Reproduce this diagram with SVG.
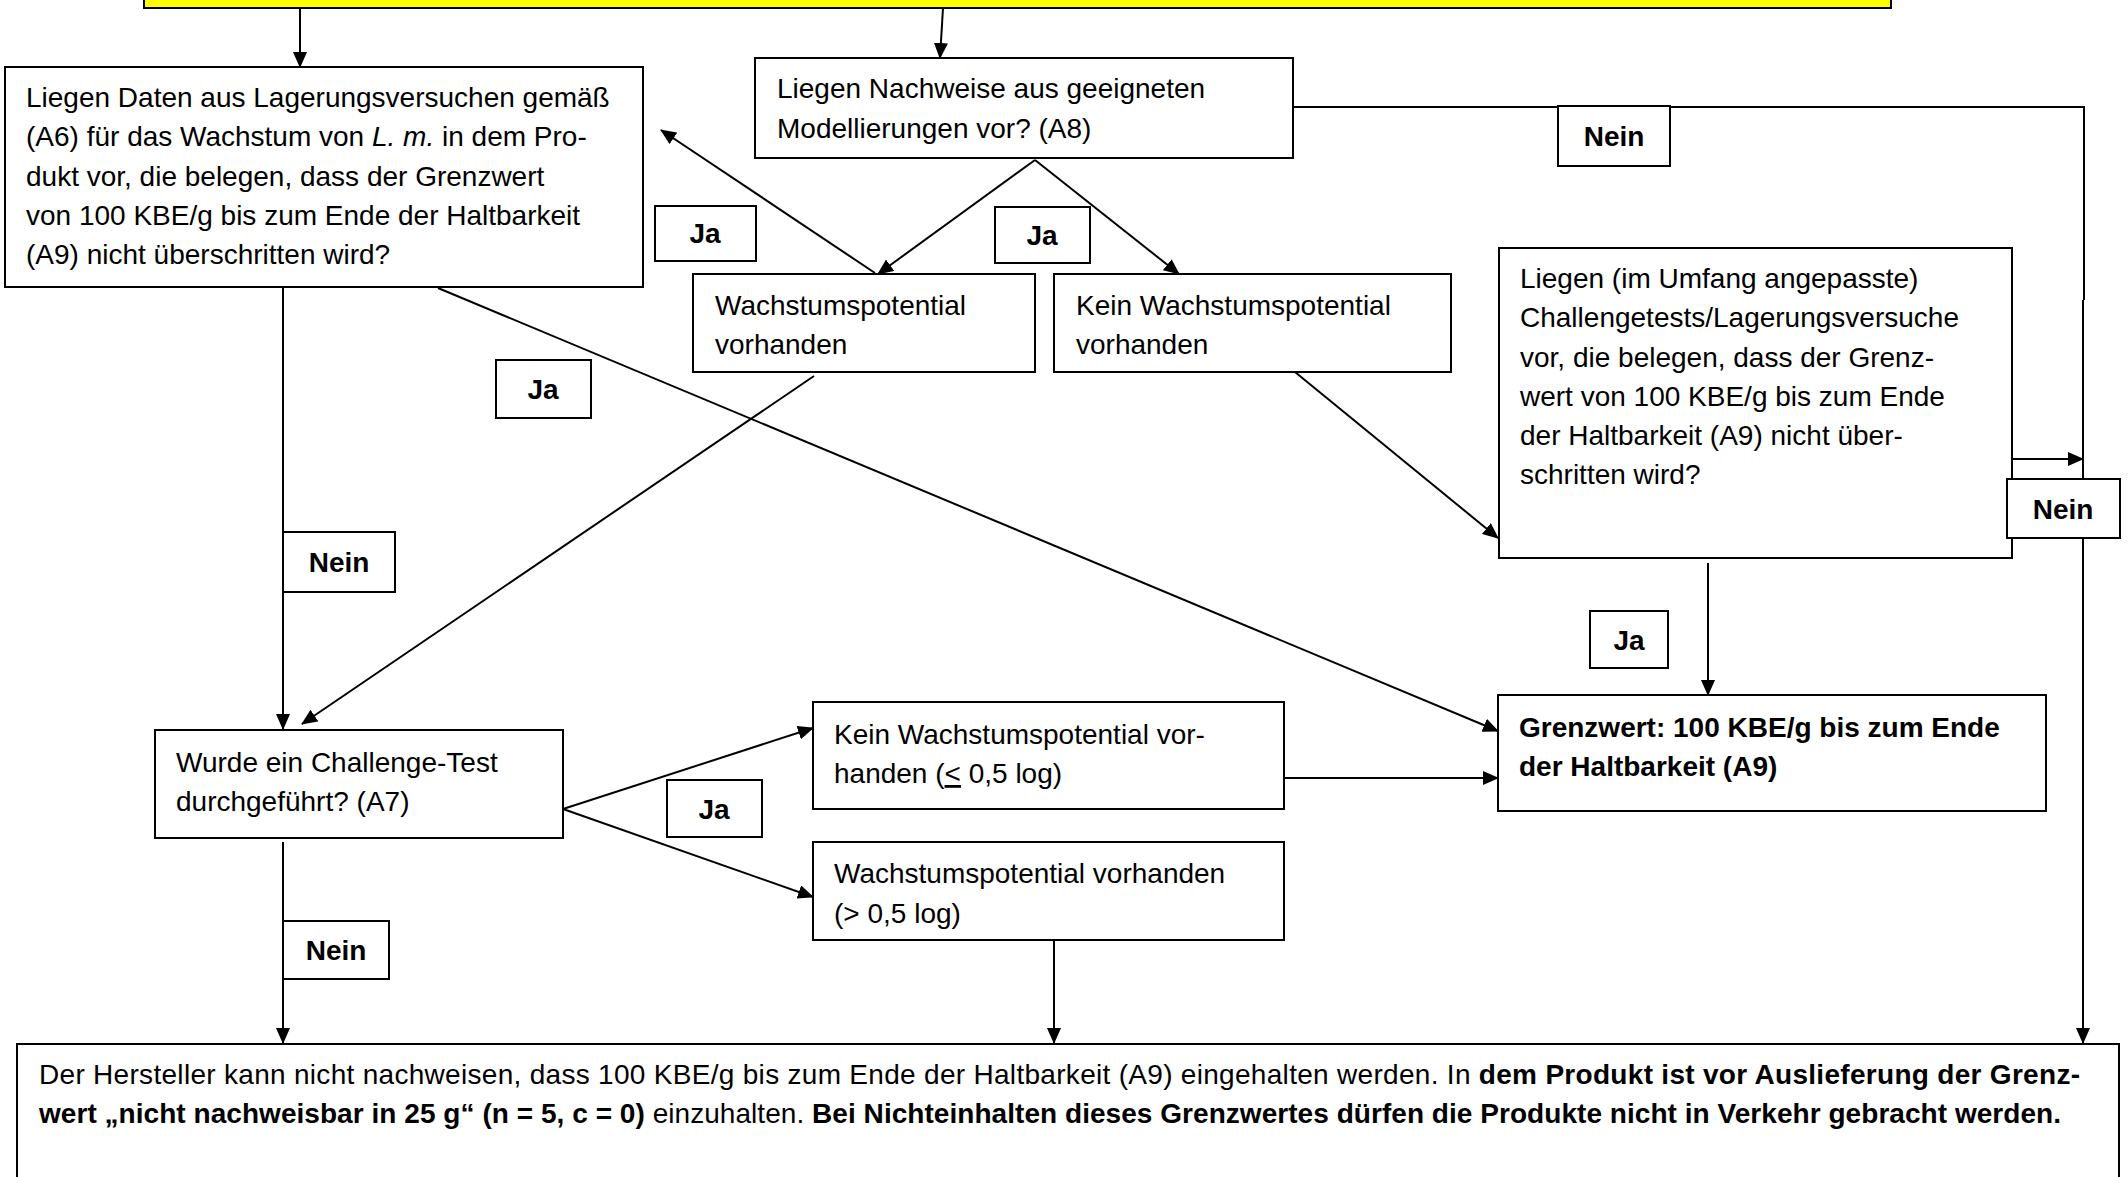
<svg xmlns="http://www.w3.org/2000/svg" width="2128" height="1177" viewBox="0 0 2128 1177">
<style>
.box{fill:#fff;stroke:#000;stroke-width:2}
.lbl{fill:#fff;stroke:#000;stroke-width:2}
.t{font-family:"Liberation Sans",Arial,sans-serif;font-size:28px;fill:#000}
.b{font-weight:bold}
.c{text-anchor:middle}
.ln{fill:none;stroke:#000;stroke-width:2}
.ar{fill:none;stroke:#000;stroke-width:2;marker-end:url(#ah)}
</style>
<defs>
<marker id="ah" markerUnits="userSpaceOnUse" markerWidth="16" markerHeight="14" viewBox="0 0 16 14" refX="15" refY="7" orient="auto">
<path d="M0,0 L16,7 L0,14 z" fill="#000"/>
</marker>
</defs>
<rect width="2128" height="1177" fill="#fff"/>
<g id="connectors">
<line class="ar" x1="300" y1="8" x2="300" y2="67"/>
<line class="ar" x1="943" y1="8" x2="940" y2="58"/>
<polyline class="ln" points="1293,107 2084,107 2084,300"/>
<line class="ar" x1="2083" y1="300" x2="2083" y2="1043"/>
<line class="ar" x1="2012" y1="459" x2="2083" y2="459"/>
<line class="ar" x1="1035" y1="160" x2="878" y2="274"/>
<line class="ar" x1="1035" y1="160" x2="1179" y2="274"/>
<line class="ar" x1="875" y1="273" x2="661" y2="130"/>
<line class="ar" x1="1295" y1="372" x2="1498" y2="538"/>
<line class="ar" x1="1708" y1="563" x2="1708" y2="695"/>
<line class="ar" x1="438" y1="288" x2="1498" y2="731"/>
<line class="ar" x1="283" y1="288" x2="283" y2="729"/>
<line class="ar" x1="814" y1="376" x2="302" y2="724"/>
<line class="ar" x1="563" y1="809" x2="813" y2="728"/>
<line class="ar" x1="563" y1="809" x2="813" y2="897"/>
<line class="ar" x1="1284" y1="778" x2="1498" y2="778"/>
<line class="ar" x1="1054" y1="940" x2="1054" y2="1043"/>
<line class="ar" x1="283" y1="842" x2="283" y2="1043"/>
</g>
<g id="top">
<rect x="144" y="-10" width="1747" height="18" fill="#ffff00" stroke="#000" stroke-width="2"/>
</g>
<g id="nodeA">
<rect class="box" x="5" y="67" width="638" height="220"/>
<text class="t" x="26" y="107">Liegen Daten aus Lagerungsversuchen gemäß</text>
<text class="t" x="26" y="146">(A6) für das Wachstum von <tspan font-style="italic">L. m.</tspan> in dem Pro-</text>
<text class="t" x="26" y="186">dukt vor, die belegen, dass der Grenzwert</text>
<text class="t" x="26" y="225">von 100 KBE/g bis zum Ende der Haltbarkeit</text>
<text class="t" x="26" y="264">(A9) nicht überschritten wird?</text>
</g>
<g id="nodeB">
<rect class="box" x="755" y="58" width="538" height="100"/>
<text class="t" x="777" y="98">Liegen Nachweise aus geeigneten</text>
<text class="t" x="777" y="138">Modellierungen vor? (A8)</text>
</g>
<g id="nodeC">
<rect class="box" x="693" y="274" width="342" height="98"/>
<text class="t" x="715" y="315">Wachstumspotential</text>
<text class="t" x="715" y="354">vorhanden</text>
</g>
<g id="nodeD">
<rect class="box" x="1054" y="274" width="397" height="98"/>
<text class="t" x="1076" y="315">Kein Wachstumspotential</text>
<text class="t" x="1076" y="354">vorhanden</text>
</g>
<g id="nodeE">
<rect class="box" x="1499" y="248" width="513" height="310"/>
<text class="t" x="1520" y="288">Liegen (im Umfang angepasste)</text>
<text class="t" x="1520" y="327">Challengetests/Lagerungsversuche</text>
<text class="t" x="1520" y="367">vor, die belegen, dass der Grenz-</text>
<text class="t" x="1520" y="406">wert von 100 KBE/g bis zum Ende</text>
<text class="t" x="1520" y="445">der Haltbarkeit (A9) nicht über-</text>
<text class="t" x="1520" y="484">schritten wird?</text>
</g>
<g id="nodeF">
<rect class="box" x="1498" y="695" width="548" height="116"/>
<text class="t b" x="1519" y="737">Grenzwert: 100 KBE/g bis zum Ende</text>
<text class="t b" x="1519" y="776">der Haltbarkeit (A9)</text>
</g>
<g id="nodeG">
<rect class="box" x="155" y="730" width="408" height="108"/>
<text class="t" x="176" y="772">Wurde ein Challenge-Test</text>
<text class="t" x="176" y="811">durchgeführt? (A7)</text>
</g>
<g id="nodeH">
<rect class="box" x="813" y="702" width="471" height="107"/>
<text class="t" x="834" y="744">Kein Wachstumspotential vor-</text>
<text class="t" x="834" y="783">handen (<tspan text-decoration="underline">&lt;</tspan> 0,5 log)</text>
</g>
<g id="nodeI">
<rect class="box" x="813" y="842" width="471" height="98"/>
<text class="t" x="834" y="883">Wachstumspotential vorhanden</text>
<text class="t" x="834" y="923">(&gt; 0,5 log)</text>
</g>
<g id="nodeJ">
<rect class="box" x="17" y="1044" width="2102" height="150"/>
<text class="t" x="39" y="1084" textLength="2041">Der Hersteller kann nicht nachweisen, dass 100 KBE/g bis zum Ende der Haltbarkeit (A9) eingehalten werden. In <tspan class="b">dem Produkt ist vor Auslieferung der Grenz-</tspan></text>
<text class="t" x="39" y="1123" textLength="2022"><tspan class="b">wert „nicht nachweisbar in 25 g“ (n = 5, c = 0)</tspan> einzuhalten. <tspan class="b">Bei Nichteinhalten dieses Grenzwertes dürfen die Produkte nicht in Verkehr gebracht werden.</tspan></text>
</g>
<g id="labels">
<g id="lblJa1"><rect class="lbl" x="655" y="206" width="101" height="55"/><text class="t b c" x="705" y="243">Ja</text></g>
<g id="lblJa2"><rect class="lbl" x="995" y="207" width="95" height="56"/><text class="t b c" x="1042" y="245">Ja</text></g>
<g id="lblNein1"><rect class="lbl" x="1558" y="106" width="112" height="60"/><text class="t b c" x="1614" y="146">Nein</text></g>
<g id="lblJa3"><rect class="lbl" x="496" y="360" width="95" height="58"/><text class="t b c" x="543" y="399">Ja</text></g>
<g id="lblNein2"><rect class="lbl" x="283" y="532" width="112" height="60"/><text class="t b c" x="339" y="572">Nein</text></g>
<g id="lblNein3"><rect class="lbl" x="2007" y="479" width="113" height="59"/><text class="t b c" x="2063" y="519">Nein</text></g>
<g id="lblJa4"><rect class="lbl" x="1590" y="611" width="78" height="57"/><text class="t b c" x="1629" y="650">Ja</text></g>
<g id="lblJa5"><rect class="lbl" x="667" y="780" width="95" height="57"/><text class="t b c" x="714" y="819">Ja</text></g>
<g id="lblNein4"><rect class="lbl" x="283" y="921" width="106" height="58"/><text class="t b c" x="336" y="960">Nein</text></g>
</g>
</svg>
